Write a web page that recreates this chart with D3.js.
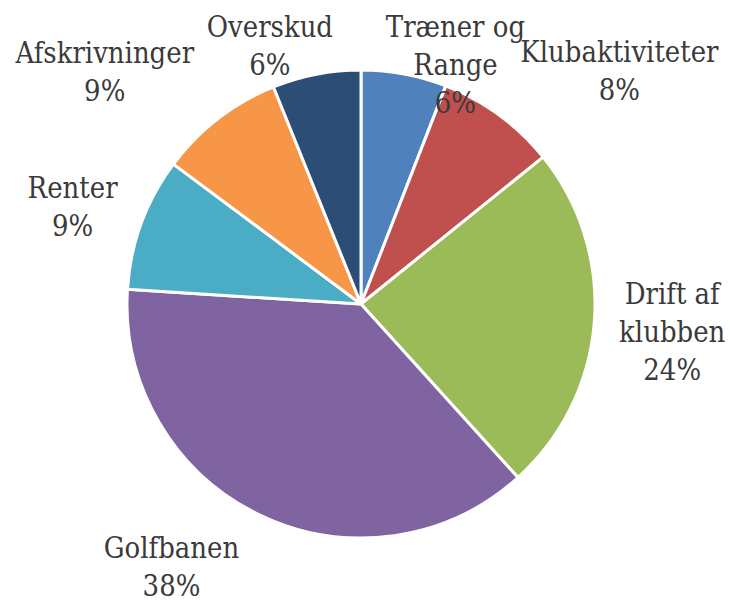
<!DOCTYPE html>
<html>
<head>
<meta charset="utf-8">
<script src="https://cdn.jsdelivr.net/npm/d3@7"></script>
<style>
    body { margin: 0; background: #fff; }
</style>
</head>
<body>
<div id="chart"></div>
<script>
// Data
const categories = ['Træner og Range', 'Klubaktiviteter', 'Drift af klubben', 'Golfbanen', 'Renter', 'Afskrivninger', 'Overskud'];
const shares = [5.9, 8.3, 24.1, 37.7, 9.2, 8.7, 6.1];
const colors = ['#4F81BD', '#C0504D', '#9BBB59', '#8064A2', '#4BACC6', '#F79646', '#2C4D75'];

// label nudges (px) on top of the outside placement, Excel moves them around a bit
const labelNudge = [[37, 56], [57, -6], [17, 5], [-55, 12], [-19, 0], [-54, -9], [-33, 18]];

function draw(){
    const dataset = categories.map((c, i) => ({ name: c, value: shares[i], color: colors[i] }));
    const valueAccessor = d => d.value;

    const dimensions = {
        width: 730,
        height: 600,
        cx: 361,
        cy: 304,
        radius: 234,
        labelGap: 8,
        fontSize: 26,
        stretch: 1.17,   // Cambria-ish glyphs are taller than DejaVu Serif at the same width
        lineHeight: 38,
        wrapWidth: 150
    }

    const svg = d3.select('#chart')
        .append('svg')
        .attr('width', dimensions.width)
        .attr('height', dimensions.height)

    const container = svg.append('g')
        .attr('transform', `translate(${dimensions.cx}, ${dimensions.cy})`)

    const pie = d3.pie()
        .value(valueAccessor)
        .sort(null)

    const arc = d3.arc()
        .innerRadius(0)
        .outerRadius(dimensions.radius)

    const arcs = pie(dataset)
    const total = d3.sum(dataset, valueAccessor)

    container.selectAll('path')
        .data(arcs)
        .join('path')
        .attr('d', arc)
        .attr('fill', d => d.data.color)
        .attr('stroke', '#fff')
        .attr('stroke-width', 3)
        .attr('stroke-linejoin', 'round')

    // Labels
    const labels = container.selectAll('g.label')
        .data(arcs)
        .join('g')
        .attr('class', 'label')
        .style('font-family', '"DejaVu Serif", serif')
        .style('font-size', `${dimensions.fontSize}px`)
        .attr('fill', '#3a3a3a')

    const measure = svg.append('text')
        .style('font-family', '"DejaVu Serif", serif')
        .style('font-size', `${dimensions.fontSize}px`)

    const textWidth = s => { measure.text(s); return measure.node().getComputedTextLength(); }

    // greedy wrap like the Excel label box
    const wrap = name => {
        const words = name.split(' ');
        const lines = [];
        let line = words[0];
        words.slice(1).forEach(w => {
            if (textWidth(line + ' ' + w) > dimensions.wrapWidth) {
                lines.push(line);
                line = w;
            } else {
                line += ' ' + w;
            }
        })
        lines.push(line);
        return lines;
    }

    labels.each(function(d, i){
        const g = d3.select(this);
        const lines = wrap(d.data.name);
        lines.push(`${Math.round(d.data.value / total * 100)}%`);

        const w = d3.max(lines, textWidth);
        const h = lines.length * dimensions.lineHeight;
        const mid = (d.startAngle + d.endAngle) / 2;
        const ux = Math.sin(mid);
        const uy = -Math.cos(mid);
        const r = dimensions.radius + dimensions.labelGap;
        const x = ux * r + ux * w / 2 + labelNudge[i][0];
        const y = uy * r + uy * h / 2 + labelNudge[i][1];

        const firstBaseline = y - (lines.length - 1) * dimensions.lineHeight / 2 + dimensions.fontSize * 0.35;

        g.selectAll('text')
            .data(lines)
            .join('text')
            .attr('text-anchor', 'middle')
            .attr('transform', (l, j) => `translate(${x}, ${firstBaseline + j * dimensions.lineHeight}) scale(1, ${dimensions.stretch})`)
            .text(l => l)
    })

    measure.remove();
}
draw()
</script>
</body>
</html>
